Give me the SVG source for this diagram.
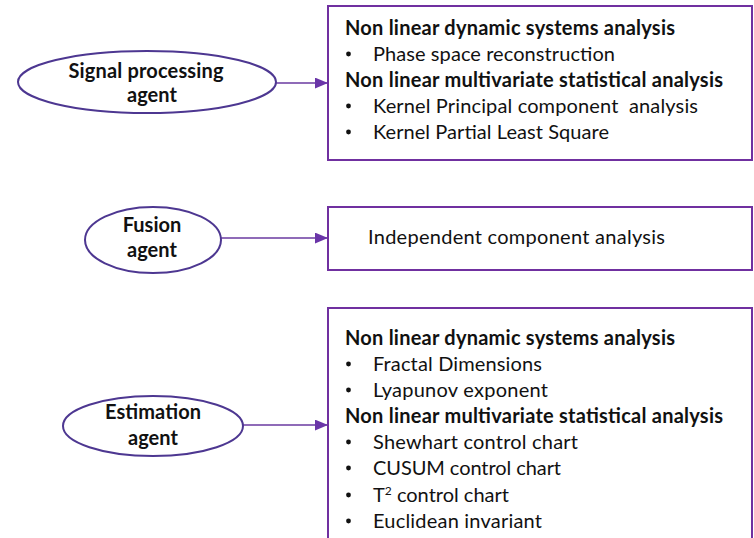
<svg xmlns="http://www.w3.org/2000/svg" width="754" height="538" viewBox="0 0 754 538">
  <style>
    .agent { fill: #ffffff; stroke: #4d3791; stroke-width: 2; }
    .box { fill: #ffffff; stroke: #7030a0; stroke-width: 2; }
    .link { stroke: #6a3aa0; stroke-width: 1.4; fill: none; }
    text { font-family: "Lato", "Liberation Sans", sans-serif; font-size: 20px; fill: #111111; }
    .b { font-weight: bold; }
    .c { text-anchor: middle; font-weight: bold; }
    .sup { font-size: 12px; }
    .dot { fill: #111111; }
  </style>
  <defs>
    <marker id="arrow" viewBox="0 0 12 10" refX="12" refY="5" markerWidth="13" markerHeight="11" markerUnits="userSpaceOnUse" orient="auto">
      <path d="M0,0 L12,5 L0,10 z" fill="#6a35a8"/>
    </marker>
    <circle id="bullet" r="2.4" class="dot"/>
  </defs>
  <rect width="754" height="538" fill="#ffffff"/>

  <!-- connectors -->
  <g id="connectors">
    <line class="link" x1="275" y1="83" x2="328" y2="83" marker-end="url(#arrow)"/>
    <line class="link" x1="220" y1="238" x2="328" y2="238" marker-end="url(#arrow)"/>
    <line class="link" x1="243" y1="425" x2="328" y2="425" marker-end="url(#arrow)"/>
  </g>

  <!-- agents -->
  <g id="signal-agent">
    <ellipse class="agent" cx="147" cy="82" rx="129" ry="31"/>
    <text class="c" x="146" y="78" textLength="155">Signal processing</text>
    <text class="c" x="152" y="102">agent</text>
  </g>
  <g id="fusion-agent">
    <ellipse class="agent" cx="153" cy="240" rx="68" ry="33"/>
    <text class="c" x="152" y="232">Fusion</text>
    <text class="c" x="152" y="257">agent</text>
  </g>
  <g id="estimation-agent">
    <ellipse class="agent" cx="153" cy="426" rx="90" ry="30"/>
    <text class="c" x="153" y="419" textLength="96">Estimation</text>
    <text class="c" x="153" y="445">agent</text>
  </g>

  <!-- method boxes -->
  <g id="signal-methods">
    <rect class="box" x="328" y="6" width="424" height="154"/>
    <text class="b" x="345" y="35" textLength="330">Non linear dynamic systems analysis</text>
    <use href="#bullet" x="348.5" y="54"/>
    <text x="373" y="61" textLength="242">Phase space reconstruction</text>
    <text class="b" x="345" y="87" textLength="378">Non linear multivariate statistical analysis</text>
    <use href="#bullet" x="348.5" y="106"/>
    <text x="373" y="113" textLength="325" xml:space="preserve">Kernel Principal component  analysis</text>
    <use href="#bullet" x="348.5" y="132"/>
    <text x="373" y="139" textLength="236">Kernel Partial Least Square</text>
  </g>
  <g id="fusion-methods">
    <rect class="box" x="328" y="207" width="424" height="63"/>
    <text x="368" y="244" textLength="297">Independent component analysis</text>
  </g>
  <g id="estimation-methods">
    <rect class="box" x="328" y="308" width="424" height="240"/>
    <text class="b" x="345" y="345" textLength="330">Non linear dynamic systems analysis</text>
    <use href="#bullet" x="348.5" y="364"/>
    <text x="373" y="371" textLength="169">Fractal Dimensions</text>
    <use href="#bullet" x="348.5" y="390"/>
    <text x="373" y="397" textLength="175">Lyapunov exponent</text>
    <text class="b" x="345" y="423" textLength="378">Non linear multivariate statistical analysis</text>
    <use href="#bullet" x="348.5" y="442"/>
    <text x="373" y="449" textLength="205">Shewhart control chart</text>
    <use href="#bullet" x="348.5" y="468"/>
    <text x="373" y="475" textLength="188">CUSUM control chart</text>
    <use href="#bullet" x="348.5" y="495"/>
    <text x="373" y="502">T<tspan class="sup" dy="-7">2</tspan><tspan dy="7"> control chart</tspan></text>
    <use href="#bullet" x="348.5" y="521"/>
    <text x="373" y="528" textLength="169">Euclidean invariant</text>
  </g>
</svg>
